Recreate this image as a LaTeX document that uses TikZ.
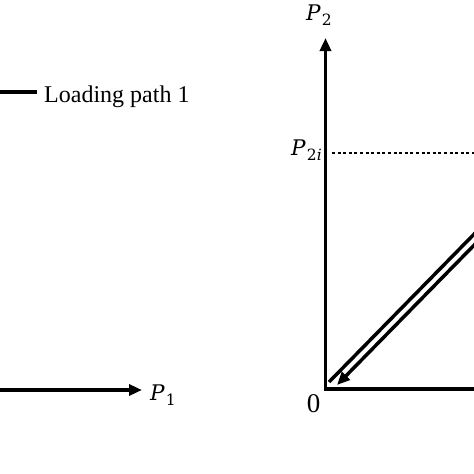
\documentclass[tikz,border=0pt]{standalone}
\usepackage{fontspec}
\setmainfont{Liberation Serif}
\newfontfamily\labelfont{DejaVu Serif}
\usetikzlibrary{arrows.meta}
\newcommand{\subsc}[1]{\kern1pt\raisebox{-5pt}{\fontsize{15.5}{17}\selectfont #1}}
\tikzset{
  axisline/.style={line width=3.4pt, line join=miter},
  tipped/.style={-{Triangle[length=13pt,width=11pt]}},
  legendline/.style={line width=4.5pt},
  pathline/.style={line width=3.5pt},
  guide/.style={line width=2.4pt, dash pattern=on 3pt off 2.6pt},
  lbl/.style={inner sep=0pt, font=\labelfont\fontsize{21.5}{24}\selectfont},
  txt/.style={inner sep=0pt, font=\fontsize{24}{28}\selectfont}
}
\begin{document}
\begin{tikzpicture}[x=1pt,y=-1pt]
\useasboundingbox (0,0) rectangle (474,474);
\begin{scope}
\clip (0,0) rectangle (474,474);
% legend
\coordinate (leg0) at (0,92);
\coordinate (leg1) at (37,92);
\draw[legendline] (leg0) -- (leg1);
\node[txt, anchor=base west] (legtext) at (44,102) {Loading path 1};
% left P1 axis
\coordinate (ax0) at (-5,390);
\coordinate (ax1) at (142,390);
\draw[axisline, tipped] (ax0) -- (ax1);
\node[lbl, anchor=base west] (p1) at (150,400) {\textit{P}\subsc{1}};
% right axes
\coordinate (o) at (325.5,389);
\coordinate (ytip) at (325.5,38);
\coordinate (xend) at (480,389);
\draw[axisline, tipped] (xend) -- (o) -- (ytip);
\node[lbl, anchor=base west] (p2) at (306,20) {\textit{P}\subsc{2}};
\node[lbl, anchor=base east] (p2i) at (322,155) {\textit{P}\subsc{2\textit{i}}};
\node[txt, anchor=base, font=\fontsize{27}{30}\selectfont] (zero) at (313.5,412) {0};
% dotted guide
\coordinate (g0) at (332,153);
\coordinate (g1) at (480,153);
\draw[guide] (g0) -- (g1);
% loading paths
\coordinate (u0) at (329,382);
\coordinate (u1) at (485,223);
\draw[pathline] (u0) -- (u1);
\coordinate (d0) at (485,234);
\coordinate (d1) at (337,385);
\draw[pathline, tipped] (d0) -- (d1);
\end{scope}
\end{tikzpicture}
\end{document}
